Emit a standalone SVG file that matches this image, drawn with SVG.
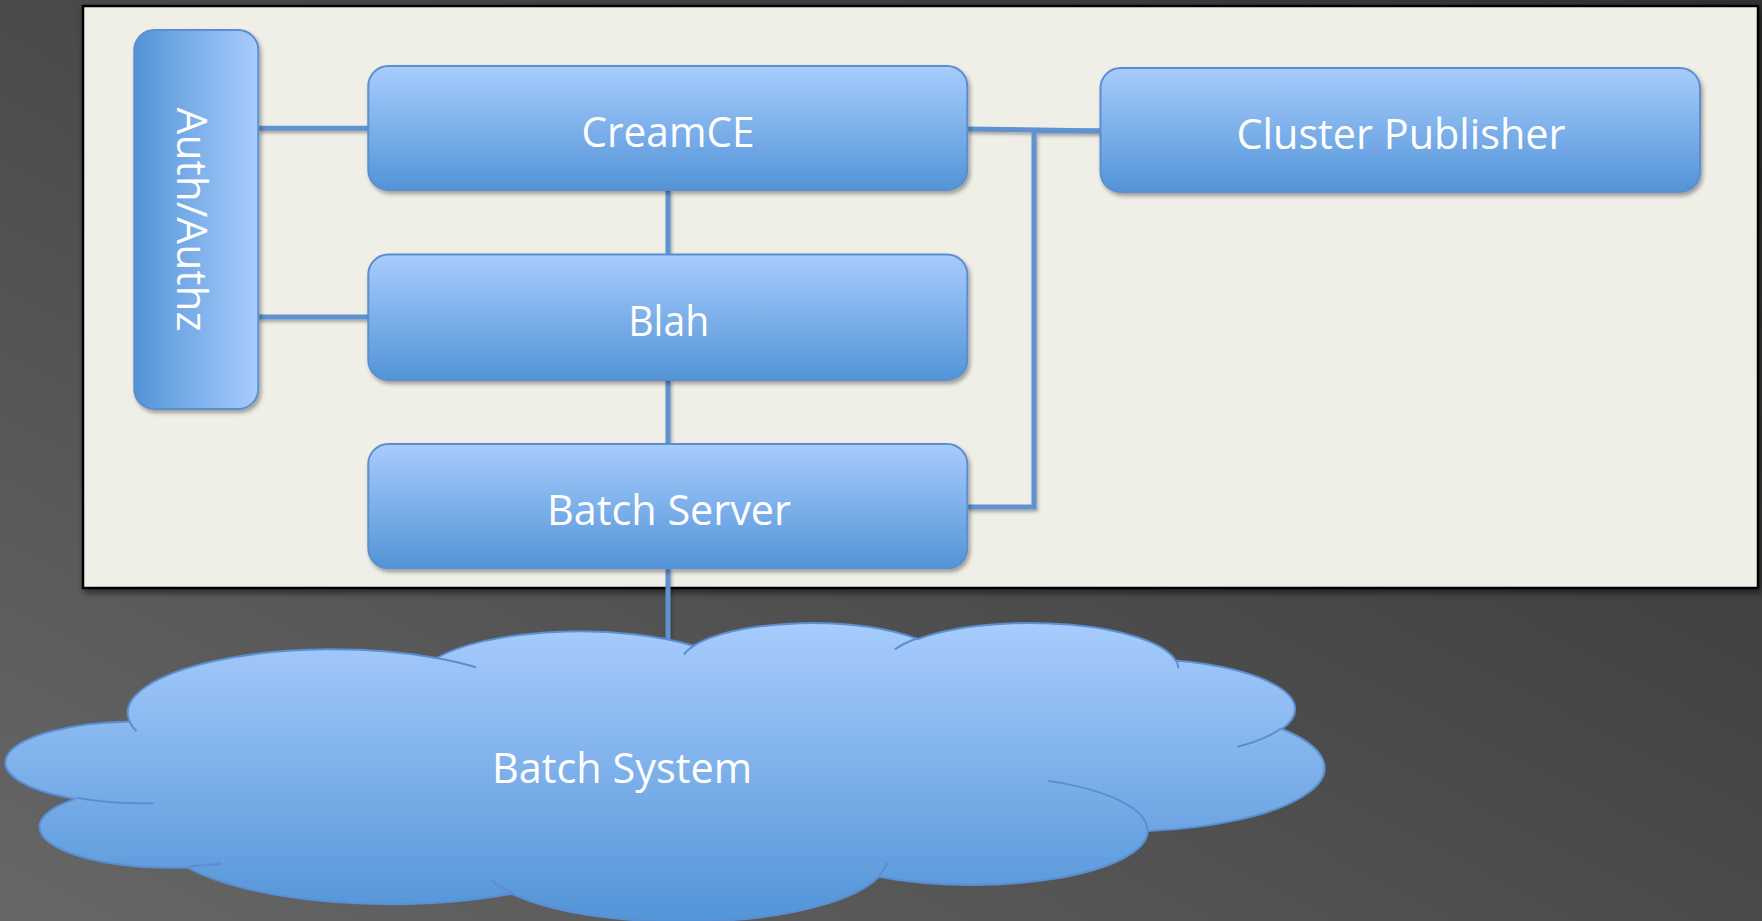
<svg xmlns="http://www.w3.org/2000/svg" width="1762" height="921" viewBox="0 0 1762 921">
  <defs>
    <linearGradient id="bg" x1="0" y1="1" x2="1" y2="0">
      <stop offset="0" stop-color="#676767"/>
      <stop offset="0.5" stop-color="#4a4a4a"/>
      <stop offset="1" stop-color="#303030"/>
    </linearGradient>
    <linearGradient id="boxV" x1="0" y1="0" x2="0" y2="1">
      <stop offset="0" stop-color="#a8ccfd"/>
      <stop offset="1" stop-color="#5294d7"/>
    </linearGradient>
    <linearGradient id="boxH" x1="1" y1="0" x2="0" y2="0">
      <stop offset="0" stop-color="#a8ccfd"/>
      <stop offset="1" stop-color="#5294d7"/>
    </linearGradient>
    <filter id="shadow" x="-10%" y="-10%" width="120%" height="130%">
      <feDropShadow dx="2" dy="3" stdDeviation="2.2" flood-color="#000" flood-opacity="0.35"/>
    </filter>
    <filter id="lshadow" filterUnits="userSpaceOnUse" x="0" y="0" width="1762" height="921">
      <feDropShadow dx="1.5" dy="2.5" stdDeviation="1.8" flood-color="#000" flood-opacity="0.3"/>
    </filter>
    <filter id="pshadow" x="-5%" y="-5%" width="110%" height="115%">
      <feDropShadow dx="2" dy="4" stdDeviation="3" flood-color="#000" flood-opacity="0.5"/>
    </filter>
  </defs>
  <style>
    .box { fill: url(#boxV); stroke: #5b8ed0; stroke-width: 2; filter: url(#shadow); }
    .lbl { font-family: "Open Sans", "Noto Sans", sans-serif; font-size: 42px; fill: #ffffff; text-anchor: middle; }
    .conn { fill: none; stroke: #5e92cf; stroke-width: 5; }
  </style>

  <rect id="background" x="0" y="0" width="1762" height="921" fill="url(#bg)"/>

  <g id="panel">
    <rect x="83" y="6" width="1675" height="582" fill="#f0efe7" stroke="#000" stroke-width="2.5" filter="url(#pshadow)"/>
  </g>

  <g id="connectors" filter="url(#lshadow)">
    <path class="conn" d="M258,128.3 H368"/>
    <path class="conn" d="M258,317 H368"/>
    <path class="conn" d="M668,190 V254.5"/>
    <path class="conn" d="M668,380 V444"/>
    <path class="conn" d="M967,129 L1101,131"/>
    <path class="conn" d="M967,507 H1034 V131 H1101"/>
    <path class="conn" d="M668,568 V640"/>
  </g>

  <g id="auth">
    <rect x="134.3" y="30" width="124" height="379" rx="20" ry="20" fill="url(#boxH)" stroke="#5b8ed0" stroke-width="2" filter="url(#shadow)"/>
    <text class="lbl" transform="translate(176.5,219.5) rotate(90)" x="0" y="0" textLength="224" lengthAdjust="spacingAndGlyphs">Auth/Authz</text>
  </g>

  <g id="creamce">
    <rect class="box" x="368.3" y="66" width="599" height="124" rx="20" ry="20"/>
    <text class="lbl" x="668" y="147.3" textLength="173" lengthAdjust="spacingAndGlyphs">CreamCE</text>
  </g>

  <g id="blah">
    <rect class="box" x="368.3" y="254.5" width="599" height="125.5" rx="20" ry="20"/>
    <text class="lbl" x="668.7" y="336" textLength="81" lengthAdjust="spacingAndGlyphs">Blah</text>
  </g>

  <g id="batchserver">
    <rect class="box" x="368.3" y="444" width="599" height="124.3" rx="20" ry="20"/>
    <text class="lbl" x="669" y="525" textLength="244" lengthAdjust="spacingAndGlyphs">Batch Server</text>
  </g>

  <g id="clusterpublisher">
    <rect class="box" x="1100.5" y="68" width="599.5" height="124" rx="20" ry="20"/>
    <text class="lbl" x="1401" y="149.3" textLength="329" lengthAdjust="spacingAndGlyphs">Cluster Publisher</text>
  </g>

  <g id="batchsystem">
    <g transform="translate(11,622) scale(0.030394,0.0069213)">
      <path fill="url(#boxV)" stroke="#5b8ed0" stroke-width="2" vector-effect="non-scaling-stroke" filter="url(#shadow)"
        d="M3900,14370 A6753,9190 0 0 1 14005.2,5202.2 A5333,7267 0 0 1 22454.7,3431.1 A4365,5945 0 0 1 29832.6,2479.9 A4857,6595 0 0 1 38317.9,5574.9 A5333,7273 0 0 1 41818.2,15458.9 A6775,9220 0 0 1 37403.5,30200.7 A5785,7867 0 0 1 28555,36810.9 A6752,9215 0 0 1 16480.6,39264.7 A7720,10543 0 0 1 5805.6,35475.1 A4360,5918 0 0 1 2114.1,25553.7 A4345,5945 0 0 1 3900,14370 Z"/>
      <path fill="none" stroke="#5b8ed0" stroke-width="2" vector-effect="non-scaling-stroke"
        d="M4693,26177 A4345,5945 0 0 1 2159.4,25379.6 M6928,34899 A4360,5918 0 0 1 5819.5,35280.5 M16478,39090 A6752,9215 0 0 1 15808.5,37346.1 M28827,34751 A6752,9215 0 0 1 28560.5,36659.6 M34129,22954 A5785,7867 0 0 1 37380.5,30089.7 M41798,15354 A5333,7273 0 0 1 40350.1,18029.7 M38324,5426 A4857,6595 0 0 1 38400.4,6689.6 M29078,3952 A4857,6595 0 0 1 29819.8,2339.6 M22141,4720 A4365,5945 0 0 1 22499.9,3330.8 M14000,5192 A6753,9190 0 0 1 15298.4,6538.3 M4127,15789 A6753,9190 0 0 1 3900.5,14372.2"/>
    </g>
    <text class="lbl" x="622" y="783" textLength="260" lengthAdjust="spacingAndGlyphs">Batch System</text>
  </g>
</svg>
